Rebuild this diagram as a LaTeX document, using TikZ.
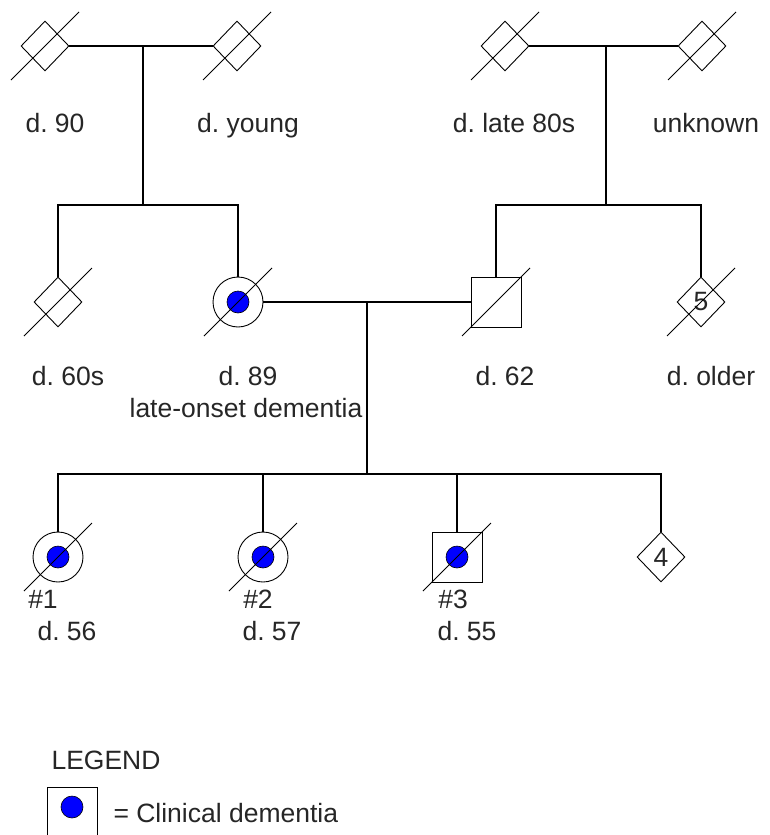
\documentclass[tikz,border=0pt]{standalone}
\usepackage{fontspec}
\setmainfont{Liberation Sans}
\usepackage{tikz}
\usetikzlibrary{shapes.geometric,calc,positioning}
\frenchspacing

\begin{document}
\begin{tikzpicture}[x=1pt,y=-1pt,
  every node/.style={font=\fontsize{26.5}{30}\selectfont,text=black!85},
  line/.style={line width=1.4pt},
  person/.style={draw,line width=0.9pt,inner sep=0pt},
  male/.style={person,rectangle,minimum size=50pt},
  female/.style={person,circle,minimum size=50pt},
  unsexed/.style={person,diamond,minimum width=48pt,minimum height=50pt},
  dot/.style={fill=blue,line width=0.6pt},
  slash/.style={line width=0.8pt},
  lbl/.style={anchor=base}]
  \clip (0,0) rectangle (769,835);
  % grandparents
  \node[unsexed] (gfa) at (45,46) {};
  \node[unsexed] (gma) at (237,46) {};
  \node[unsexed] (gfb) at (505,46) {};
  \node[unsexed] (gmb) at (702,46) {};
  % parents and their siblings
  \node[unsexed] (unc) at (58,302) {};
  \node[female] (mom) at (238,302) {};
  \node[male] (dad) at (496,302) {};
  \node[unsexed] (sibs) at (701,302) {5};
  % children
  \node[female] (p1) at (58,557) {};
  \node[female] (p2) at (263,557) {};
  \node[male] (p3) at (457,557) {};
  \node[unsexed] (kids) at (661,557) {4};
  % junctions
  \coordinate (ma) at (143,46);
  \coordinate (sa) at (143,205);
  \coordinate (mb) at (606,46);
  \coordinate (sb) at (606,205);
  \coordinate (mc) at (367,302);
  \coordinate (sc) at (367,474);
  % marriages and sibships
  \draw[line] (gfa) -- (gma);
  \draw[line] (ma) -- (sa);
  \draw[line] (unc.north) |- (sa) -| (mom.north);
  \draw[line] (gfb) -- (gmb);
  \draw[line] (mb) -- (sb);
  \draw[line] (dad.north) |- (sb) -| (sibs.north);
  \draw[line] (mom) -- (dad);
  \draw[line] (mc) -- (sc);
  \draw[line] (p1.north) |- (sc) -| (kids.north);
  \draw[line] (p2.north) -- (p2.north |- sc);
  \draw[line] (p3.north) -- (p3.north |- sc);
  % affected
  \foreach \n in {mom,p1,p2,p3}
    \draw[dot] (\n) circle (11pt);
  % deceased
  \foreach \n in {gfa,gma,gfb,gmb,unc,mom,dad,sibs,p1,p2,p3}
    \draw[slash] ($(\n)+(-34,34)$) -- ($(\n)+(34,-34)$);
  % labels
  \node[lbl] at (55,132) {d. 90};
  \node[lbl] at (248,132) {d. young};
  \node[lbl] at (514,132) {d. late 80s};
  \node[lbl] at (706,132) {unknown};
  \node[lbl] at (68,385) {d. 60s};
  \node[lbl] at (248,385) {d. 89};
  \node[lbl] at (246,417) {late-onset dementia};
  \node[lbl] at (505,385) {d. 62};
  \node[lbl] at (711,385) {d. older};
  \node[lbl] at (43,608) {\#1};
  \node[lbl] at (67,640) {d. 56};
  \node[lbl] at (258,608) {\#2};
  \node[lbl] at (272,640) {d. 57};
  \node[lbl] at (453,608) {\#3};
  \node[lbl] at (467,640) {d. 55};
  % legend
  \node[lbl,anchor=base west] at (48,769) {LEGEND};
  \draw[line width=0.9pt] (47,787) rectangle (97,850);
  \draw[dot] (72,807) circle (11pt);
  \node[lbl,anchor=base west] at (110,822) {= Clinical dementia};
\end{tikzpicture}
\end{document}
